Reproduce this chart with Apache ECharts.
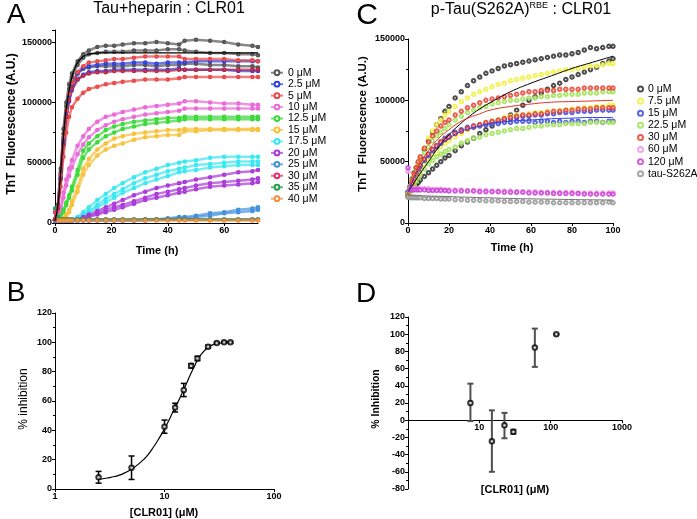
<!DOCTYPE html>
<html><head><meta charset="utf-8">
<script src="https://cdn.jsdelivr.net/npm/echarts@6/dist/echarts.min.js"></script>
<style>html,body{margin:0;padding:0;background:#fff}#c{width:697px;height:519px}</style>
</head><body><div id="c"></div>
<script>
// ---------- Panel A: Tau+heparin : CLR01 (values in thousands of A.U.) ----------
const tA = [0,1,2,3,4,5,6,8,10,12,15,18,21,24,28,32,36,40,44,46,50,55,60,65,70,72];
const namesA = ['0 μM','2.5 μM','5 μM','10 μM','12.5 μM','15 μM','17.5 μM','20 μM','25 μM','30 μM','35 μM','40 μM'];
const a0r1 = [3,15,45,78,100,115,124,134,140,143,146,147,147,148,149,149,150,149,148,151,152,151,150,148,147,146];
const a0r2 = [3,14,42,74,97,111,121,131,137,140,141,142,142,142,143,143,143,144,144,143,142,141,141,140,140,139];
const a0r3 = [3,12,38,68,92,106,115,124,128,129,130,130,130,130,131,131,130,131,131,132,132,131,131,130,130,129];
const a2r1 = [3,13,40,70,92,106,115,124,128,130,131,132,132,132,133,133,132,133,133,133,134,134,134,134,134,134];
const a2r2 = [3,12,37,66,88,101,110,119,123,125,126,126,127,127,127,127,127,127,128,127,127,127,127,126,126,126];
const a5r1 = [3,13,40,71,93,107,116,125,130,133,134,135,136,136,137,138,138,138,138,136,136,136,136,135,135,134];
const a5r2 = [3,12,36,65,88,102,111,119,122,124,125,125,126,126,126,126,126,126,127,127,127,127,127,127,127,127];
const a5r3 = [3,10,30,55,75,88,96,103,108,111,113,115,116,117,118,119,119,119,120,121,121,121,121,121,121,121];
const a10r1 = [2,4,12,25,36,45,52,64,72,78,84,88,90,92,94,96,97,98,99,101,101,100,99,99,98,98];
const a10r2 = [2,3,10,21,31,39,46,57,65,71,77,81,84,86,88,90,91,92,93,95,95,95,95,95,95,95];
const a12r1 = [2,3,6,11,17,23,30,44,60,66,72,77,80,82,84,85,86,87,87,88,88,88,88,88,88,88];
const a12r2 = [2,3,5,9,15,21,27,40,54,61,67,72,75,78,80,82,83,84,85,86,86,86,86,86,86,86];
const a15r1 = [2,2,3,4,7,11,18,30,45,53,61,66,70,72,74,75,76,77,77,78,78,78,78,78,78,78];
const a15r2 = [2,2,3,4,6,9,15,26,40,48,56,61,64,66,69,71,72,73,73,76,76,77,77,77,77,77];
const a17r1 = [2,2,2,2,2,2,3,5,9,13,19,24,29,33,38,42,45,48,50,51,52,54,55,55,55,55];
const a17r2 = [2,2,2,2,2,2,2,4,7,10,15,20,24,28,33,37,40,43,45,46,48,49,50,51,51,51];
const a17r3 = [2,2,2,2,2,2,2,3,6,9,13,17,21,25,29,33,36,39,42,43,44,46,47,48,48,48];
const a20r1 = [2,2,2,2,2,2,2,3,5,7,10,13,16,19,23,26,29,31,33,34,36,38,40,42,43,44];
const a20r2 = [2,2,2,2,2,2,2,2,4,6,8,11,13,15,18,21,24,26,28,29,31,33,34,35,36,37];
const a20r3 = [2,2,2,2,2,2,2,2,3,5,7,9,11,13,16,19,21,23,25,26,28,30,31,32,33,34];
const a25r1 = [2,2,2,2,2,2,2,2,2,2,2,2,2,2,2,3,3,4,5,5,6,8,9,11,12,13];
const a25r2 = [2,2,2,2,2,2,2,2,2,2,2,2,2,2,2,2,3,3,4,4,5,6,8,9,10,11];
const a30 = [9,4,3,3,3,3,3,3,3,3,3,3,3,3,3,3,3,3,3,3,3,3,3,3,3,3];
const a35 = [12,5,3,3,3,3,3,3,3,3,3,3,3,3,3,3,3,3,3,3,3,3,3,3,3,3];
const a40 = [3,2,2,2,2,2,2,2,2,2,2,2,2,2,2,2,2,2,2,2,2,2,2,2,2,2];
const tFitA = [0,1,2,3,4,5,6,7,8,10,12,14,16,20,30,40,50,60,72];
const fitA0 = [2,14,42,72,95,110,121,128,133,138,140,140.5,141,141,141,141,141,141,141];

// ---------- Panel C: p-Tau(S262A)RBE : CLR01 (values in thousands of A.U.) ----------
const tC = [0,1,2,3,4,5,6,8,10,12,14,16,18,20,23,26,29,32,35,38,41,44,47,50,53,56,59,62,65,68,71,74,77,80,83,86,89,92,95,98,100];
const namesC = ['0 μM','7.5 μM','15 μM','22.5 μM','30 μM','60 μM','120 μM','tau-S262A'];
const c0r1 = [25,30,36,41,45,49,53,60,67,74,80,85,91,95,102,107,112,116,119,122,124,126,128,129,130,131,132,133,134,135,136,137,137,138,139,141,143,142,143,144,144];
const c0r2 = [25,26,27,29,31,33,35,38,41,44,47,50,53,55,59,63,66,69,73,76,79,82,85,88,92,96,100,103,106,109,112,114,117,119,121,123,125,127,130,132,134];
const c7r1 = [25,30,35,40,45,49,53,61,69,75,80,84,88,91,95,99,102,105,107,109,111,113,114,116,117,118,119,120,121,122,123,124,125,125,126,127,128,128,129,130,130];
const c7r2 = [25,28,31,34,37,40,43,48,52,56,59,62,65,67,70,73,76,78,80,82,83,84,86,87,88,88,89,90,90,91,91,92,92,93,93,94,94,95,95,96,96];
const c15r1 = [25,29,33,37,41,44,47,52,56,60,63,66,69,71,74,76,78,79,80,81,82,83,84,85,86,87,87,88,88,89,89,90,90,90,91,91,91,92,92,92,92];
const c15r2 = [25,28,32,36,40,43,46,51,55,59,62,65,68,70,73,75,77,78,79,80,81,81,82,82,83,83,83,82,83,83,82,83,82,83,83,82,83,83,82,83,83];
const c22r1 = [24,28,33,38,42,46,50,57,62,67,71,74,77,80,84,87,90,92,94,95,97,98,99,100,100,101,102,102,103,103,104,104,105,105,105,106,106,106,107,107,107];
const c22r2 = [22,25,28,31,34,37,40,44,48,51,54,56,58,60,62,65,67,69,70,72,73,74,75,76,77,77,78,79,79,80,80,80,81,81,81,81,82,82,82,82,82];
const c30r1 = [22,28,34,40,45,50,54,61,66,71,75,79,82,84,88,91,94,96,98,100,101,102,103,104,105,106,107,107,108,108,108,109,109,109,109,110,110,110,110,110,110];
const c30r2 = [22,27,32,36,40,44,47,52,56,60,63,66,68,70,73,75,77,79,80,82,83,84,85,86,87,88,88,89,89,90,91,91,92,92,93,93,93,94,94,94,94];
const c60 = [42,28,28,28,28,28,28,28,28,27.5,27.5,27.5,27,27,27,27,26.5,26.5,26.5,26.5,26,26,26,26,25.5,25.5,25.5,25.5,25,25,25,25,25,25,24.5,24.5,24.5,24.5,24.5,24.5,24.5];
const c120 = [45,27,27,27,27,27,27,27,26.5,26.5,26.5,26.5,26.5,26,26,26,26,26,25.5,25.5,25.5,25.5,25,25,25,25,24.5,24.5,24.5,24.5,24,24,24,24,24,23.5,23.5,23.5,23.5,23.5,23.5];
const ctau = [21,20.5,20.5,20.5,20.5,20.5,20.5,20,20,20,20,19.5,19.5,19.5,19,19,18.5,18.5,18.5,18,18,18,17.5,17.5,17.5,17.5,17,17,17,17,16.5,16.5,16.5,16.5,16.5,16.5,16.5,16.5,16.5,17,16.5];
const tFitC = [0,5,10,15,20,25,30,35,40,50,60,70,80,90,100];
const fitC0 = [25,38,50,62,72,80,87,93,98,107,114,120,126,131,136];
const fitC30 = [25,45,59,69,76,82,86,89,92,95,97,98.5,99,99.5,100];
const fitC15 = [25,43,55,63,69,74,77,79,81,83,84,85,85.5,86,86];
const fitCtau = [23,22.5,22,21.8,21.5,21.2,21,20.7,20.5,20,19.7,19.4,19.1,18.9,18.7];

// ---------- Panel B: % inhibition vs [CLR01] ----------
const concB = [2.5,5,10,12.5,15,17.5,20,25,30,35,40];
const inhB = [8,14.5,42.5,55.5,67.5,84,89,97,99.5,100,100];
const errB = [4,8,4.5,3,4.5,1.5,1.5,1,0.5,0.5,0.5];
const fitXB = [2.5,3,3.5,4,5,6,7,8,9,10,11,12,13,14,15,16,17,18,19,20,22,25,28,32,36,40];
const fitYB = [6.5,7.5,8.5,9.8,13.5,18,23,29,35,41,47,53,58,63,68,72.5,77,81,84.5,88,92.5,96.5,98.5,99.5,100,100];

// ---------- Panel D: % Inhibition vs [CLR01] ----------
const concD = [7.5,15,22.5,30,60,120];
const inhD = [20,-24.5,-6,-13.5,84.5,100];
const errLoD = [-1,-60,-21,-16,62,100];
const errHiD = [42.5,11.5,8.5,-11,106.5,100];
const yRangeD = [-80, 120];

const FONT = '"Liberation Sans", Arial, sans-serif';
const pair = (xs, ys, k) => xs.map((x, i) => [x, ys[i] * k]);
const plain = v => String(Math.round(v * 1000) / 1000);

function axis(gi, extra) {
  const label = Object.assign({color: '#000', fontSize: 9, fontWeight: 'bold', fontFamily: FONT, margin: 3, formatter: plain},
    extra.axisLabel || {});
  const line = Object.assign({show: true, onZero: false, lineStyle: {color: '#000', width: 1}}, extra.axisLine || {});
  const o = Object.assign({
    gridIndex: gi,
    axisTick: {show: true, length: 3, lineStyle: {color: '#000', width: 1}},
    splitLine: {show: false}
  }, extra);
  o.axisLabel = label;
  o.axisLine = line;
  return o;
}

const series = [];
const colA = ['#555555','#2f3fdc','#e84848','#e868d8','#38d838','#f8c038','#38e8f0','#a838d8','#4090e0','#e03068','#20a048','#f09040'];
const groupsA = [
  [0,[a0r1,a0r2,a0r3]],[1,[a2r1,a2r2]],[2,[a5r1,a5r3]],[3,[a10r1,a10r2]],[4,[a12r1,a12r2]],[5,[a15r1,a15r2]],
  [6,[a17r1,a17r2,a17r3]],[7,[a20r1,a20r2,a20r3]],[8,[a25r1,a25r2]],[9,[a30]],[10,[a35]],[11,[a40]]
];
groupsA.forEach(([ci, reps]) => {
  reps.forEach(arr => {
    series.push({type: 'line', name: namesA[ci], xAxisIndex: 0, yAxisIndex: 0,
      data: pair(tA, arr, 1000), symbol: 'emptyCircle', symbolSize: 2.5,
      itemStyle: {color: colA[ci], borderWidth: 0.8}, lineStyle: {color: colA[ci], width: 2.5, opacity: 0.7},
      silent: true, z: 2});
  });
});
series.push({type: 'line', name: namesA[2], xAxisIndex: 0, yAxisIndex: 0, data: pair(tA, a5r2, 1000),
  symbol: 'emptyCircle', symbolSize: 2.5, itemStyle: {color: '#b82848', borderWidth: 0.8},
  lineStyle: {color: '#b82848', width: 2.5, opacity: 0.7}, silent: true, z: 2});
series.push({type: 'line', name: 'fitA', xAxisIndex: 0, yAxisIndex: 0, data: pair(tFitA, fitA0, 1000),
  symbol: 'none', smooth: true, lineStyle: {color: '#000', width: 1.2}, silent: true, z: 3});

const colC = ['#202020','#f0f030','#3040e0','#98e048','#e83828','#f090e0','#c838d8','#909090'];
const groupsC = [[0,[c0r1,c0r2]],[1,[c7r1,c7r2]],[2,[c15r1,c15r2]],[3,[c22r1,c22r2]],[4,[c30r1,c30r2]],[5,[c60]],[6,[c120]],[7,[ctau]]];
groupsC.forEach(([ci, reps]) => {
  reps.forEach(arr => {
    series.push({type: 'scatter', name: namesC[ci] + '\u200B', xAxisIndex: 1, yAxisIndex: 1,
      data: pair(tC, arr, 1000), symbol: 'emptyCircle', symbolSize: 3.5,
      itemStyle: {color: colC[ci], borderColor: colC[ci], borderWidth: 0.9}, silent: true, z: 2});
  });
});
[[fitC0,'#000'],[fitC30,'#e03020'],[fitC15,'#3040e0'],[fitCtau,'#707070']].forEach(([arr, c]) => {
  series.push({type: 'line', name: 'fitC', xAxisIndex: 1, yAxisIndex: 1, data: pair(tFitC, arr, 1000),
    symbol: 'none', smooth: true, lineStyle: {color: c, width: 1}, silent: true, z: 3});
});

function errBar(color, lw) {
  return function (params, api) {
    const x = api.value(0), lo = api.value(1), hi = api.value(2);
    const p1 = api.coord([x, lo]), p2 = api.coord([x, hi]);
    const w = 3;
    const st = {stroke: color, lineWidth: lw};
    return {type: 'group', children: [
      {type: 'line', shape: {x1: p1[0], y1: p1[1], x2: p2[0], y2: p2[1]}, style: st},
      {type: 'line', shape: {x1: p1[0] - w, y1: p1[1], x2: p1[0] + w, y2: p1[1]}, style: st},
      {type: 'line', shape: {x1: p2[0] - w, y1: p2[1], x2: p2[0] + w, y2: p2[1]}, style: st}
    ]};
  };
}
series.push({type: 'line', name: 'fitB', xAxisIndex: 2, yAxisIndex: 2, data: fitXB.map((x, i) => [x, fitYB[i]]),
  symbol: 'none', smooth: true, lineStyle: {color: '#000', width: 1.2}, silent: true, z: 2});
series.push({type: 'custom', name: 'errB', xAxisIndex: 2, yAxisIndex: 2, renderItem: errBar('#000', 1.5),
  data: concB.map((x, i) => [x, inhB[i] - errB[i], inhB[i] + errB[i]]), encode: {x: 0, y: [1, 2]}, silent: true, z: 3});
series.push({type: 'scatter', name: 'ptsB', xAxisIndex: 2, yAxisIndex: 2, data: concB.map((x, i) => [x, inhB[i]]),
  symbol: 'emptyCircle', symbolSize: 4.5, itemStyle: {color: '#000', borderColor: '#000', borderWidth: 1}, silent: true, z: 4});
series.push({type: 'custom', name: 'errD', xAxisIndex: 3, yAxisIndex: 3, renderItem: errBar('#505050', 2),
  data: concD.map((x, i) => [x, errLoD[i], errHiD[i]]), encode: {x: 0, y: [1, 2]}, silent: true, z: 3});
series.push({type: 'scatter', name: 'ptsD', xAxisIndex: 3, yAxisIndex: 3, data: concD.map((x, i) => [x, inhD[i]]),
  symbol: 'emptyCircle', symbolSize: 4.5, itemStyle: {color: '#000', borderColor: '#000', borderWidth: 1}, silent: true, z: 4});

function txt(text, x, y, size, weight, rot) {
  return {type: 'text', x: x, y: y, rotation: rot || 0, silent: true,
    style: {text: text, fontSize: size, fontWeight: weight || 'normal', fontFamily: FONT, fill: '#000',
      align: 'center', verticalAlign: 'middle'}};
}
const minor = {show: true, splitNumber: 2, length: 2, lineStyle: {color: '#000'}};
// D grid geometry; the x axis is moved up to sit on y = 0
const gridD = {left: 408, top: 317, width: 214, height: 172};
const offsetD = -gridD.height * (0 - yRangeD[0]) / (yRangeD[1] - yRangeD[0]);

const option = {
  animation: false,
  backgroundColor: '#fff',
  grid: [
    {left: 55, top: 30, width: 203, height: 193, outerBoundsMode: 'none'},
    {left: 408, top: 39, width: 205, height: 184, outerBoundsMode: 'none'},
    {left: 55, top: 313, width: 219, height: 176, outerBoundsMode: 'none'},
    Object.assign({outerBoundsMode: 'none'}, gridD)
  ],
  xAxis: [
    axis(0, {type: 'value', min: 0, max: 72, interval: 20, axisLabel: {showMaxLabel: false}}),
    axis(1, {type: 'value', min: 0, max: 100, interval: 20}),
    axis(2, {type: 'log', logBase: 10, min: 1, max: 100}),
    axis(3, {type: 'log', logBase: 10, min: 1, max: 1000, offset: offsetD, axisLabel: {showMinLabel: false}})
  ],
  yAxis: [
    axis(0, {type: 'value', min: 0, max: 160000, interval: 50000, minorTick: minor, axisLabel: {showMaxLabel: false}}),
    axis(1, {type: 'value', min: 0, max: 150000, interval: 50000, minorTick: minor}),
    axis(2, {type: 'value', min: 0, max: 120, interval: 20, minorTick: minor}),
    axis(3, {type: 'value', min: yRangeD[0], max: yRangeD[1], interval: 20, minorTick: minor})
  ],
  legend: [
    {data: namesA, orient: 'vertical', left: 270, top: 67, padding: 0, itemGap: 0, itemWidth: 12, itemHeight: 6,
      selectedMode: false, textStyle: {fontSize: 10.5, lineHeight: 11.45, fontFamily: FONT, color: '#000'}},
    {data: namesC.map(n => n + '\u200B'), orient: 'vertical', left: 637, top: 83, padding: 0, itemGap: 0,
      itemWidth: 5, itemHeight: 5, selectedMode: false,
      textStyle: {fontSize: 10.5, lineHeight: 12.1, fontFamily: FONT, color: '#000'}}
  ],
  graphic: {elements: [
    txt('A', 16, 15, 28),
    txt('C', 367, 16, 30),
    txt('B', 16, 293, 28),
    txt('D', 366, 294, 28),
    txt('Tau+heparin : CLR01', 169, 9, 16),
    {type: 'text', x: 521, y: 10, silent: true, style: {
      text: '{a|p-Tau(S262A)}{s|RBE}{a| : CLR01}', align: 'center', verticalAlign: 'middle',
      rich: {a: {fontSize: 16, fontFamily: FONT, fill: '#000', lineHeight: 18},
             s: {fontSize: 9, fontFamily: FONT, fill: '#000', verticalAlign: 'top', lineHeight: 18, padding: [0, 0, 6, 0]}}}},
    txt('ThT  Fluorescence (A.U.)', 12, 124, 12, 'bold', Math.PI / 2),
    txt('Time (h)', 157, 251, 11, 'bold'),
    txt('ThT  Fluorescence (A.U.)', 363, 124, 11.5, 'bold', Math.PI / 2),
    txt('Time (h)', 512, 248, 11, 'bold'),
    txt('% inhibition', 24, 399, 12, 'normal', Math.PI / 2),
    txt('[CLR01] (μM)', 164, 513, 11, 'bold'),
    txt('% Inhibition', 376, 399, 10.5, 'bold', Math.PI / 2),
    txt('[CLR01] (μM)', 515, 490, 11, 'bold')
  ]},
  series: series
};
const chart = echarts.init(document.getElementById('c'), null, {renderer: 'canvas'});
chart.setOption(option);
</script></body></html>
